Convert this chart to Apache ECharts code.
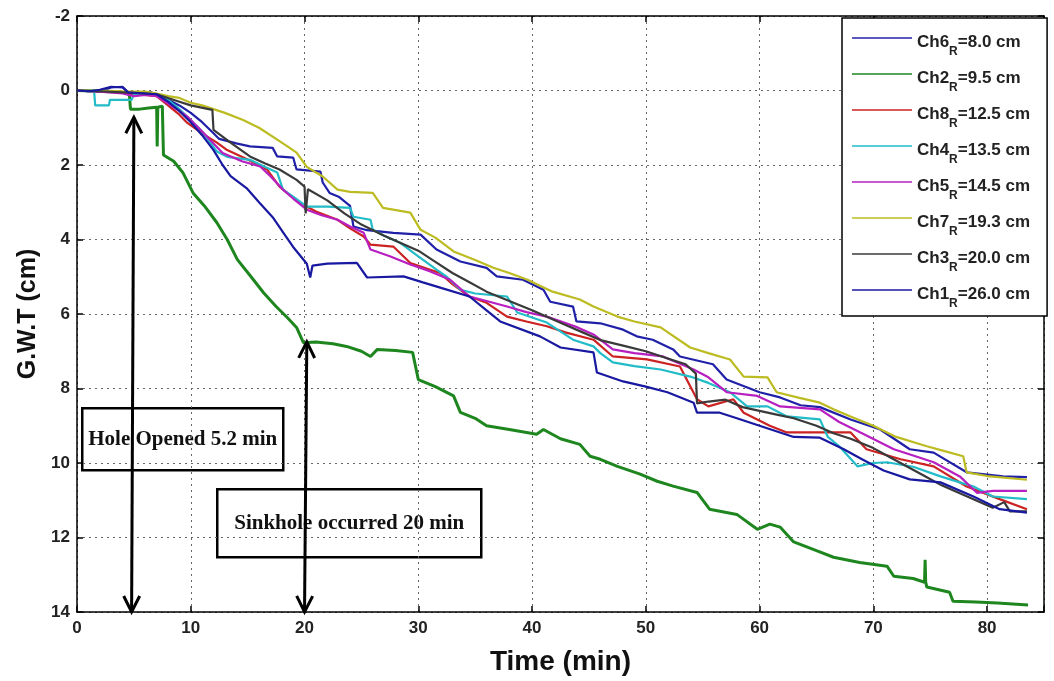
<!DOCTYPE html>
<html><head><meta charset="utf-8">
<script src="https://cdn.jsdelivr.net/npm/echarts@6/dist/echarts.min.js"></script>
<style>html,body{margin:0;padding:0;background:#fff}#c{width:1054px;height:681px}</style>
</head><body><div id="c"></div>
<script>
// ---- data ----
const names = ['Ch6','Ch2','Ch8','Ch4','Ch5','Ch7','Ch3','Ch1'];
const radii = ['8.0','9.5','12.5','13.5','14.5','19.3','20.0','26.0'];
const colors = ['#2020a8','#1e861e','#cc2222','#22bcc8','#b81fc0','#bcbc22','#3a3a3a','#1818a0'];
const xTickValues = [0,10,20,30,40,50,60,70,80];
const yTickValues = [-2,0,2,4,6,8,10,12,14];

const ch6 = [[0,0],[1,0.02],[2,0.03],[3,-0.08],[4,-0.1],[4.5,0.05],[5.5,0.08],[6.5,0.05],[7,0.1],[8,0.25],[9,0.4],[10,0.6],[11,0.85],[12,1.15],[12.5,1.3],[14,1.42],[15.2,1.5],[17.2,1.54],[17.6,1.77],[19,1.8],[19.3,2.12],[21.4,2.18],[21.6,2.47],[22.2,2.75],[23,2.85],[24,3.1],[24.3,3.65],[25.5,3.75],[27.8,3.82],[30.2,3.87],[31.6,4.27],[33.7,4.59],[36,4.76],[36.9,4.99],[39.2,5.08],[41,5.35],[41.6,5.67],[43.6,5.8],[43.9,6.2],[46,6.25],[48,6.42],[49.2,6.6],[50.6,6.69],[52.4,6.95],[53,7.14],[55.9,7.35],[57.1,7.76],[60,8.1],[61.8,8.24],[63.6,8.45],[65.3,8.5],[68,8.83],[70.6,9.1],[73.2,9.63],[75.3,9.72],[78.2,10.25],[81.4,10.36],[83.5,10.38]];
const ch2 = [[0,0],[2,0.02],[4,0.05],[4.6,0.1],[4.7,0.5],[5.5,0.5],[6.3,0.47],[7.0,0.45],[7.05,1.5],[7.1,0.45],[7.5,0.42],[7.6,1.73],[8.5,1.9],[9.3,2.2],[10.2,2.75],[11.2,3.1],[12.3,3.55],[13.2,4.0],[14.1,4.54],[15.3,5.0],[16.4,5.43],[17.5,5.8],[18.5,6.1],[19.3,6.36],[19.9,6.77],[21,6.75],[22.5,6.8],[23.7,6.87],[25,7.0],[25.8,7.14],[26.4,6.95],[28,6.98],[29.5,7.03],[30,7.76],[31.5,7.95],[33.1,8.2],[33.7,8.64],[35,8.8],[36,9.0],[38,9.1],[40.4,9.23],[41,9.1],[42.5,9.35],[44.2,9.5],[45.1,9.82],[46,9.9],[47.5,10.09],[49.5,10.3],[51,10.49],[52.4,10.62],[54.5,10.79],[55.6,11.24],[58,11.38],[59.8,11.78],[60.9,11.64],[61.8,11.72],[63,12.12],[65,12.35],[66.5,12.53],[68.8,12.67],[71.2,12.77],[71.8,13.04],[73.5,13.1],[74.5,13.2],[74.55,12.6],[74.6,13.2],[74.7,13.33],[76.7,13.47],[77,13.71],[79,13.73],[80.9,13.76],[83.6,13.81]];
const ch8 = [[0,0],[2,0.02],[4,0.05],[5,0.1],[6,0.12],[7,0.15],[8,0.4],[9,0.65],[9.7,0.87],[11,1.15],[12.3,1.4],[13.2,1.6],[15,1.85],[16.7,2.12],[17.8,2.58],[19.6,3.02],[21,3.25],[22.9,3.47],[24,3.7],[25.2,3.92],[25.8,4.14],[27.8,4.19],[29.3,4.63],[31.9,4.9],[33,5.2],[34.5,5.53],[36,5.7],[37.8,6.07],[39.5,6.2],[41.3,6.33],[43,6.5],[45.4,6.69],[47.1,7.14],[50.1,7.22],[53,7.41],[54.5,8.29],[55.5,8.48],[57.7,8.29],[58.6,8.65],[60.9,9.0],[62.4,9.18],[65.3,9.18],[68,9.18],[69.4,9.63],[72.4,9.9],[75.3,10.09],[78.2,10.63],[81.1,10.97],[83.5,11.24]];
const ch4 = [[0,0],[1.5,0],[1.6,0.4],[2.8,0.4],[2.9,0.25],[4.8,0.25],[5,0.1],[6,0.08],[7,0.1],[8,0.25],[9,0.5],[10,0.8],[11,1.1],[12.3,1.64],[13.2,1.78],[15.2,1.86],[16.5,2.05],[17.6,2.2],[18.1,2.66],[19,2.85],[20.2,3.12],[22,3.12],[24,3.15],[24.3,3.39],[25.8,3.47],[26,3.74],[27,3.9],[28.4,4.09],[30,4.45],[31.6,4.81],[32.5,5.0],[33.7,5.35],[35,5.45],[37.8,5.53],[38.7,5.96],[41.3,6.23],[43.6,6.69],[45.4,6.87],[46,7.05],[47.1,7.3],[49,7.4],[51.3,7.49],[53.9,7.68],[55.5,7.85],[57.4,8.1],[58.9,8.48],[60.7,8.48],[62.4,8.75],[65.3,8.83],[66,9.3],[67,9.55],[68.6,10.09],[70,10.0],[71.2,9.98],[73.5,10.1],[75.9,10.36],[77.6,10.52],[78.8,10.63],[80.5,10.9],[83.5,10.97]];
const ch5 = [[0,0],[2,0.03],[4,0.08],[5,0.15],[6,0.12],[7,0.15],[8,0.35],[9,0.55],[9.7,0.7],[11,1.1],[12.8,1.68],[14.5,1.9],[16.1,2.04],[17,2.3],[18.1,2.66],[19,2.9],[20.2,3.2],[21.5,3.35],[22.9,3.47],[24,3.65],[25.2,3.82],[25.8,4.27],[27.5,4.45],[29.3,4.67],[31,4.85],[32.8,5.08],[34.5,5.53],[36,5.65],[37.8,5.8],[39.5,5.95],[41.3,6.07],[44,6.36],[45.4,6.55],[47.1,6.95],[49,7.05],[51.5,7.14],[54.2,7.49],[55.5,7.7],[57.1,8.1],[59.8,8.2],[61.8,8.48],[65.3,8.56],[67,8.9],[69,9.2],[71.8,9.63],[73.5,9.8],[75.3,9.98],[77.6,10.36],[79.1,10.8],[80.5,10.75],[83.5,10.75]];
const ch7 = [[0,0],[2,0],[4,0.02],[6,0.03],[7,0.08],[8,0.15],[9,0.2],[10,0.33],[11,0.4],[12,0.5],[13,0.6],[14.6,0.79],[16,1.0],[17.6,1.32],[18.5,1.5],[19.3,1.67],[20.2,2.05],[21.6,2.31],[22.9,2.66],[24,2.72],[26,2.75],[26.9,3.15],[29.3,3.28],[30.2,3.74],[31.5,3.95],[33.1,4.32],[35,4.55],[36.6,4.76],[38,4.9],[39.6,5.08],[41.8,5.4],[44.2,5.61],[45.4,5.8],[47.5,6.07],[49,6.2],[51.3,6.36],[53.9,6.9],[55.5,7.05],[57.4,7.22],[58.6,7.68],[60.7,7.7],[61.5,8.1],[63.5,8.25],[65.3,8.38],[66.5,8.56],[68,8.75],[70,9.0],[72,9.3],[74.7,9.55],[76.5,9.7],[77.9,9.82],[78.2,10.25],[80,10.35],[83.5,10.45]];
const ch3 = [[0,0],[2,0.02],[4,0.05],[6,0.08],[7,0.1],[8,0.2],[9,0.3],[10,0.4],[11.9,0.52],[12,1.06],[13.5,1.4],[15.2,1.77],[16.5,1.95],[17.8,2.12],[19.3,2.4],[20,2.58],[20.1,3.3],[20.3,2.65],[22,2.95],[23.5,3.3],[25,3.6],[27,3.9],[28.5,4.1],[30,4.3],[31.5,4.6],[33,4.9],[34.5,5.15],[36,5.4],[38,5.65],[40,5.9],[41.5,6.1],[43,6.3],[44.5,6.5],[46,6.7],[48,6.85],[50,7.0],[52,7.2],[53.5,7.35],[54.4,7.6],[54.5,8.4],[55.5,8.35],[57,8.3],[58.5,8.5],[60,8.6],[61.5,8.7],[63,8.8],[65,9.0],[66.5,9.2],[68,9.35],[70,9.6],[71.5,9.85],[73,10.1],[74.5,10.35],[76,10.6],[77.5,10.8],[79,11.0],[80.5,11.2],[81.5,11.05],[82,11.3],[83.5,11.3]];
const ch1 = [[0,0],[1,0.02],[2,-0.02],[3,-0.1],[4,-0.08],[4.5,0.05],[6,0.08],[7,0.1],[8,0.3],[9,0.55],[10,0.85],[11,1.2],[12,1.6],[12.8,2.0],[13.5,2.3],[14.9,2.62],[16,3.0],[17.2,3.4],[18.1,3.8],[19,4.2],[20.2,4.65],[20.5,5.02],[20.7,4.7],[22,4.65],[24.6,4.63],[25.5,5.02],[28.7,4.99],[30.4,5.15],[32,5.3],[34.5,5.53],[36,5.9],[37.2,6.2],[40.7,6.6],[42.5,6.9],[45.4,7.03],[45.7,7.57],[48,7.81],[50,7.95],[51.9,8.1],[54.2,8.38],[54.5,8.65],[56.5,8.65],[58,8.8],[60,9.0],[63,9.3],[65.3,9.32],[67.4,9.63],[69,9.9],[70.9,10.2],[73.2,10.44],[75.9,10.52],[78.8,10.9],[81.1,11.24],[83.5,11.33]];
const seriesData = [ch6, ch2, ch8, ch4, ch5, ch7, ch3, ch1];

// annotations: [xTop, yTop, xBottom, yBottom] in data units
const arrows = [[5.0, 0.72, 4.8, 14], [20.2, 6.75, 20.0, 14]];
const boxTexts = ['Hole Opened 5.2 min', 'Sinkhole occurred 20 min'];

// ---- chart ----
const chart = echarts.init(document.getElementById('c'));
const SANS = 'Liberation Sans, Arial, sans-serif';
const SERIF = 'Liberation Serif, Times New Roman, serif';
const labelStyle = {color:'#222', fontSize:17, fontWeight:'bold', fontFamily:SANS};

const lineSeries = names.map((n,i)=>({
  name:n, type:'line', data:seriesData[i], showSymbol:false, symbol:'none',
  lineStyle:{color:colors[i], width: i===1 ? 3 : 2.2}, itemStyle:{color:colors[i]},
  animation:false, z: 2 + i/10
}));

const arrowSeries = {
  type:'custom', data:arrows, clip:false, silent:true, z:5, animation:false,
  encode:{x:[0,2], y:[1,3]},
  renderItem:(params, api)=>{
    const p1 = api.coord([api.value(0), api.value(1)]);
    const p2 = api.coord([api.value(2), api.value(3)]);
    const dx = p2[0]-p1[0], dy = p2[1]-p1[1];
    const L = Math.hypot(dx,dy), ux = dx/L, uy = dy/L;
    const hl = 16, hw = 8;
    const head = (tip, dir)=>[
      [tip[0] - dir*ux*hl - uy*hw, tip[1] - dir*uy*hl + ux*hw],
      tip,
      [tip[0] - dir*ux*hl + uy*hw, tip[1] - dir*uy*hl - ux*hw]
    ];
    const st = {stroke:'#000', lineWidth:3, fill:null};
    return {type:'group', children:[
      {type:'line', shape:{x1:p1[0], y1:p1[1], x2:p2[0], y2:p2[1]}, style:st},
      {type:'polyline', shape:{points:head(p1,-1)}, style:st},
      {type:'polyline', shape:{points:head(p2,1)}, style:st}
    ]};
  }
};

const boxes = [
  {left:81, top:407, w:201, h:62, text:boxTexts[0]},
  {left:216, top:488, w:264, h:68, text:boxTexts[1]}
];

const option = {
  backgroundColor:'#fff',
  animation:false,
  grid:{left:77, right:10, top:16, bottom:69, show:false},
  xAxis:[{
    type:'value', min:0, max:85, interval:10, position:'bottom',
    name:'Time (min)', nameLocation:'middle', nameGap:36,
    nameTextStyle:{fontSize:28, fontWeight:'bold', color:'#111', fontFamily:SANS},
    axisLine:{show:true, onZero:false, lineStyle:{color:'#000', width:1.5}},
    axisTick:{show:true, inside:true, length:6, lineStyle:{color:'#000', width:1.5}},
    axisLabel:{...labelStyle, margin:8, formatter:v=> xTickValues.includes(v) ? String(v) : ''},
    splitLine:{show:true, lineStyle:{color:'#666', type:[2,4], width:1}}
  },{
    type:'value', min:0, max:85, interval:10, position:'top',
    axisLine:{show:true, onZero:false, lineStyle:{color:'#000', width:1.5}},
    axisTick:{show:true, inside:true, length:6, lineStyle:{color:'#000', width:1.5}},
    axisLabel:{show:false}, splitLine:{show:false}
  }],
  yAxis:[{
    type:'value', min:-2, max:14, interval:2, inverse:true, position:'left',
    name:'G.W.T (cm)', nameLocation:'middle', nameGap:35, nameRotate:90,
    nameTextStyle:{fontSize:25, fontWeight:'bold', color:'#111', fontFamily:SANS},
    axisLine:{show:true, onZero:false, lineStyle:{color:'#000', width:1.5}},
    axisTick:{show:true, inside:true, length:6, lineStyle:{color:'#000', width:1.5}},
    axisLabel:{...labelStyle, margin:7, formatter:v=> yTickValues.includes(v) ? String(v) : ''},
    splitLine:{show:true, lineStyle:{color:'#666', type:[2,4], width:1}}
  },{
    type:'value', min:-2, max:14, interval:2, inverse:true, position:'right',
    axisLine:{show:true, onZero:false, lineStyle:{color:'#000', width:1.5}},
    axisTick:{show:true, inside:true, length:6, lineStyle:{color:'#000', width:1.5}},
    axisLabel:{show:false}, splitLine:{show:false}
  }],
  legend:{
    show:true, orient:'vertical', left:842, top:18,
    backgroundColor:'#fff', borderColor:'#000', borderWidth:1.5,
    padding:[12,17,6,10], itemGap:8, itemWidth:60, itemHeight:1.5, itemTextGap:8,
    icon:'rect',
    selectedMode:false, data:names,
    formatter:n=>{const i=names.indexOf(n); return '{a|'+n+'}{s|R}{a|='+radii[i]+' cm}';},
    textStyle:{color:'#222', fontFamily:SANS, fontWeight:'bold', rich:{
      a:{fontSize:17, fontWeight:'bold', fontFamily:SANS, color:'#222', lineHeight:16, verticalAlign:'top', padding:[4,0,0,0]},
      s:{fontSize:12, fontWeight:'bold', fontFamily:SANS, color:'#222', lineHeight:12, verticalAlign:'top', padding:[16,0,0,0]}
    }}
  },
  graphic: boxes.map(b=>({
    type:'group', left:b.left, top:b.top, z:100,
    children:[
      {type:'rect', shape:{x:0,y:0,width:b.w,height:b.h}, style:{fill:'#fff', stroke:'#000', lineWidth:2.5}},
      {type:'text', x:b.w/2, y:b.h/2, style:{text:b.text, fill:'#111', font:'bold 21px '+SERIF, align:'center', verticalAlign:'middle'}}
    ]
  })),
  series:[...lineSeries, arrowSeries]
};
chart.setOption(option);
</script></body></html>
